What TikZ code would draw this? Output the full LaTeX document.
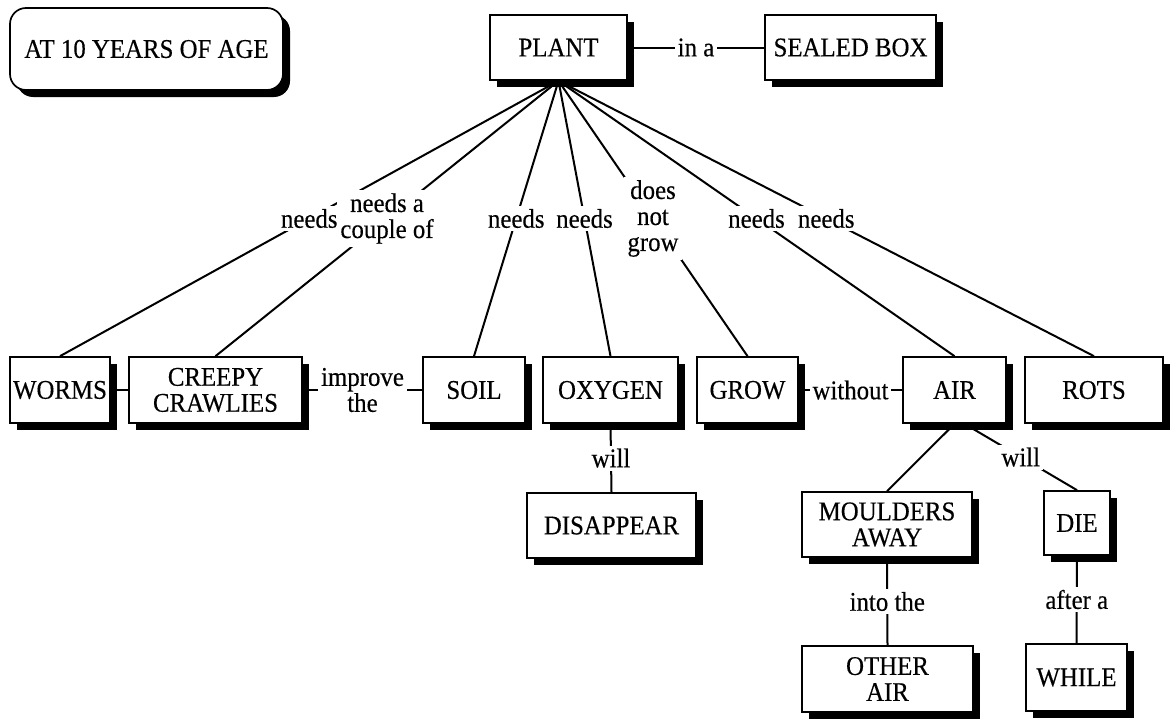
\documentclass[tikz,border=0pt]{standalone}
\usepackage{fontspec}
\setmainfont{Liberation Serif}[FakeStretch=0.92, FakeBold=0.35]
\usetikzlibrary{shadows}
\begin{document}
\begin{tikzpicture}[x=1pt,y=-1pt,
  every node/.style={font=\fontsize{27}{26}\selectfont},
  concept/.style={draw, line width=1.7pt, fill=white, align=center, inner sep=0pt,
    minimum height=66pt,
    drop shadow={shadow xshift=7pt, shadow yshift=-7pt, fill=black, opacity=1}},
  link/.style={line width=2pt},
  lbl/.style={fill=white, inner sep=3pt, align=center}]

\useasboundingbox (0,0) rectangle (1172,720);

% title and top concepts
\node[concept, rounded corners=16pt, minimum width=273pt, minimum height=82pt] (age) at (146.5,49) {AT 10 YEARS OF AGE};
\node[concept, minimum width=137pt, minimum height=65pt] (plant) at (558.5,47.5) {PLANT};
\node[concept, minimum width=171pt, minimum height=65pt] (sealed) at (850.5,47.5) {SEALED BOX};

% middle row
\node[concept, minimum width=100pt] (worms)  at (60,390)    {WORMS};
\node[concept, minimum width=173pt] (creepy) at (215.5,390) {CREEPY\\CRAWLIES};
\node[concept, minimum width=102pt] (soil)   at (474,390)   {SOIL};
\node[concept, minimum width=135pt] (oxygen) at (610.5,390) {OXYGEN};
\node[concept, minimum width=101pt] (grow)   at (747.5,390) {GROW};
\node[concept, minimum width=103pt] (air)    at (954.5,390) {AIR};
\node[concept, minimum width=138pt] (rots)   at (1094,390)  {ROTS};

% lower rows
\node[concept, minimum width=169pt, minimum height=65pt] (disappear) at (611.5,525.5) {DISAPPEAR};
\node[concept, minimum width=170pt, minimum height=65pt] (moulders)  at (887,524.5)   {MOULDERS\\AWAY};
\node[concept, minimum width=66pt,  minimum height=64pt] (die)       at (1077,523)    {DIE};
\node[concept, minimum width=171pt, minimum height=66pt] (other)     at (887.5,679)   {OTHER\\AIR};
\node[concept, minimum width=101pt, minimum height=67pt] (while)     at (1076.5,677.5){WHILE};

% links
\draw[link] (plant) -- node[lbl] (l0) {in a} (sealed);
\draw[link] (plant.south) -- node[lbl] (l1) {needs} (worms.north);
\draw[link] (plant.south) -- node[lbl] (l2) {needs a\\couple of} (creepy.north);
\draw[link] (plant.south) -- node[lbl] (l3) {needs} (soil.north);
\draw[link] (plant.south) -- node[lbl] (l4) {needs} (oxygen.north);
\draw[link] (plant.south) -- node[lbl] (l5) {does\\not\\grow} (grow.north);
\draw[link] (plant.south) -- node[lbl] (l6) {needs} (air.north);
\draw[link] (plant.south) -- node[lbl] (l7) {needs} (rots.north);

\draw[link] (worms) -- (creepy);
\draw[link] (creepy) -- node[lbl] (l8) {improve\\the} (soil);
\draw[link] (grow) -- node[lbl] (l9) {without} (air);
\draw[link] (oxygen.south) -- node[lbl] (l10) {will} (disappear.north);
\draw[link] (air.south) -- (moulders.north);
\draw[link] ([xshift=10pt]air.south) -- node[lbl] (l11) {will} (die.north);
\draw[link] (moulders.south) -- node[lbl] (l12) {into the} (other.north);
\draw[link] (die.south) -- node[lbl] (l13) {after a} (while.north);

\end{tikzpicture}
\end{document}
